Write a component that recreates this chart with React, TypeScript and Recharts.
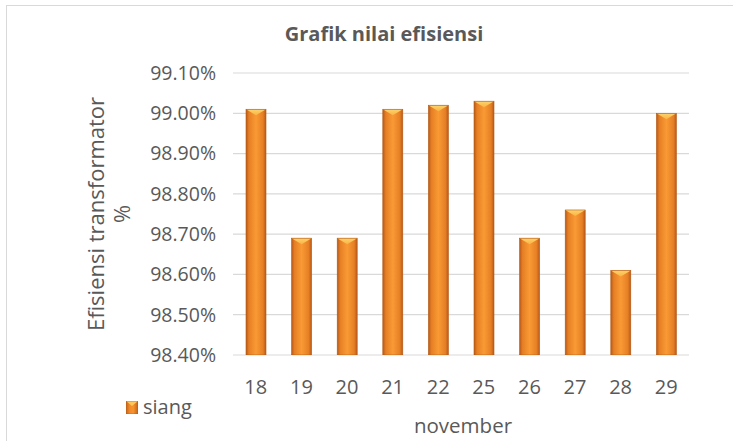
import { Bar, BarChart, CartesianGrid, Legend, XAxis, YAxis } from 'recharts';

const days = ['18', '19', '20', '21', '22', '25', '26', '27', '28', '29'];
const siang = [99.01, 98.69, 98.69, 99.01, 99.02, 99.03, 98.69, 98.76, 98.61, 99.0];
const yTicks = [98.4, 98.5, 98.6, 98.7, 98.8, 98.9, 99.0, 99.1];

const data = days.map((d, i) => ({ day: d, siang: siang[i] }));

const FONT = '"Open Sans", sans-serif';
const GREY = '#595959';

function BevelBar(props: any) {
  const { x, y, width, height } = props;
  if (!height || height <= 0) return null;
  const tip = Math.min(6, height);
  return (
    <g>
      <ellipse cx={x + width / 2} cy={y + height + 2} rx={width / 2 + 2} ry={3} fill="#000" opacity={0.08} />
      <rect x={x} y={y} width={width} height={height} fill="url(#barGrad)" />
      <polygon
        points={`${x},${y} ${x + width},${y} ${x + width / 2},${y + tip}`}
        fill="url(#topGrad)"
      />
      <rect x={x} y={y} width={width} height={height} fill="none" stroke="#b35a16" strokeWidth={0.6} />
    </g>
  );
}

function YLabel(props: any) {
  const { viewBox } = props;
  const cy = viewBox.y + viewBox.height / 2;
  return (
    <g fontFamily={FONT} fontSize={22} fill={GREY}>
      <text x={95} y={cy} textAnchor="middle" dominantBaseline="central" transform={`rotate(-90, 95, ${cy})`}>
        Efisiensi transformator
      </text>
      <text x={121} y={cy} textAnchor="middle" dominantBaseline="central" transform={`rotate(-90, 121, ${cy})`}>
        %
      </text>
    </g>
  );
}

function XLabel(props: any) {
  const { viewBox } = props;
  return (
    <text x={viewBox.x + viewBox.width / 2 + 2} y={433} textAnchor="middle" fontFamily={FONT} fontSize={20.5} fill={GREY}>
      november
    </text>
  );
}

function LegendBox() {
  return (
    <div style={{ display: 'flex', alignItems: 'center', fontFamily: FONT, fontSize: 20, lineHeight: '20px', color: GREY }}>
      <svg width={12} height={13} style={{ marginRight: 5 }}>
        <defs>
          <linearGradient id="legGrad" x1="0" y1="0" x2="1" y2="0">
            <stop offset="0%" stopColor="#c3631b" />
            <stop offset="30%" stopColor="#f2892a" />
            <stop offset="60%" stopColor="#f7952f" />
            <stop offset="100%" stopColor="#c3631b" />
          </linearGradient>
        </defs>
        <rect x={0} y={0} width={12} height={13} fill="url(#legGrad)" />
        <polygon points="0,0 12,0 6,5" fill="#fcc65a" />
        <rect x={0} y={0} width={12} height={13} fill="none" stroke="#b35a16" strokeWidth={0.6} />
      </svg>
      <span>siang</span>
    </div>
  );
}

export default function App() {
  return (
    <div style={{ position: 'absolute', left: 0, top: 0, width: 733, height: 441, background: '#fff', overflow: 'hidden' }}>
      <div
        style={{
          position: 'absolute',
          left: 6,
          top: 5,
          width: 740,
          height: 450,
          border: '1.5px solid #d9d9d9',
          boxSizing: 'border-box',
        }}
      />
      <div
        style={{
          position: 'absolute',
          left: 0,
          top: 24,
          width: 768,
          textAlign: 'center',
          fontFamily: FONT,
          fontSize: 20,
          lineHeight: '20px',
          fontWeight: 'bold',
          color: GREY,
        }}
      >
        Grafik nilai efisiensi
      </div>
      <BarChart
        width={733}
        height={441}
        data={data}
        margin={{ top: 73, right: 44, left: 0, bottom: 0 }}
        style={{ position: 'absolute', left: 0, top: 0 }}
      >
        <defs>
          <linearGradient id="barGrad" x1="0" y1="0" x2="1" y2="0">
            <stop offset="0%" stopColor="#b9581a" />
            <stop offset="15%" stopColor="#e67f24" />
            <stop offset="50%" stopColor="#f99a35" />
            <stop offset="85%" stopColor="#e67f24" />
            <stop offset="100%" stopColor="#b9581a" />
          </linearGradient>
          <linearGradient id="topGrad" x1="0" y1="0" x2="0" y2="1">
            <stop offset="0%" stopColor="#fdd36f" />
            <stop offset="100%" stopColor="#f9b443" />
          </linearGradient>
        </defs>
        <CartesianGrid vertical={false} stroke="#d9d9d9" strokeWidth={1.2} />
        <XAxis
          dataKey="day"
          height={86}
          axisLine={false}
          tickLine={false}
          tick={{ fill: GREY, fontFamily: FONT, fontSize: 20 }}
          tickMargin={19}
          label={<XLabel />}
        />
        <YAxis
          width={233}
          domain={[98.4, 99.1]}
          ticks={yTicks}
          allowDataOverflow
          axisLine={false}
          tickLine={false}
          tick={{ fill: GREY, fontFamily: FONT, fontSize: 19.5 }}
          tickMargin={11}
          tickFormatter={(v: number) => `${v.toFixed(2)}%`}
          label={<YLabel />}
        />
        <Legend
          layout="horizontal"
          verticalAlign="middle"
          align="center"
          wrapperStyle={{ position: 'absolute', left: 126, top: 397, width: 'auto' }}
          content={() => <LegendBox />}
        />
        <Bar dataKey="siang" barSize={20} shape={<BevelBar />} isAnimationActive={false} />
      </BarChart>
    </div>
  );
}
